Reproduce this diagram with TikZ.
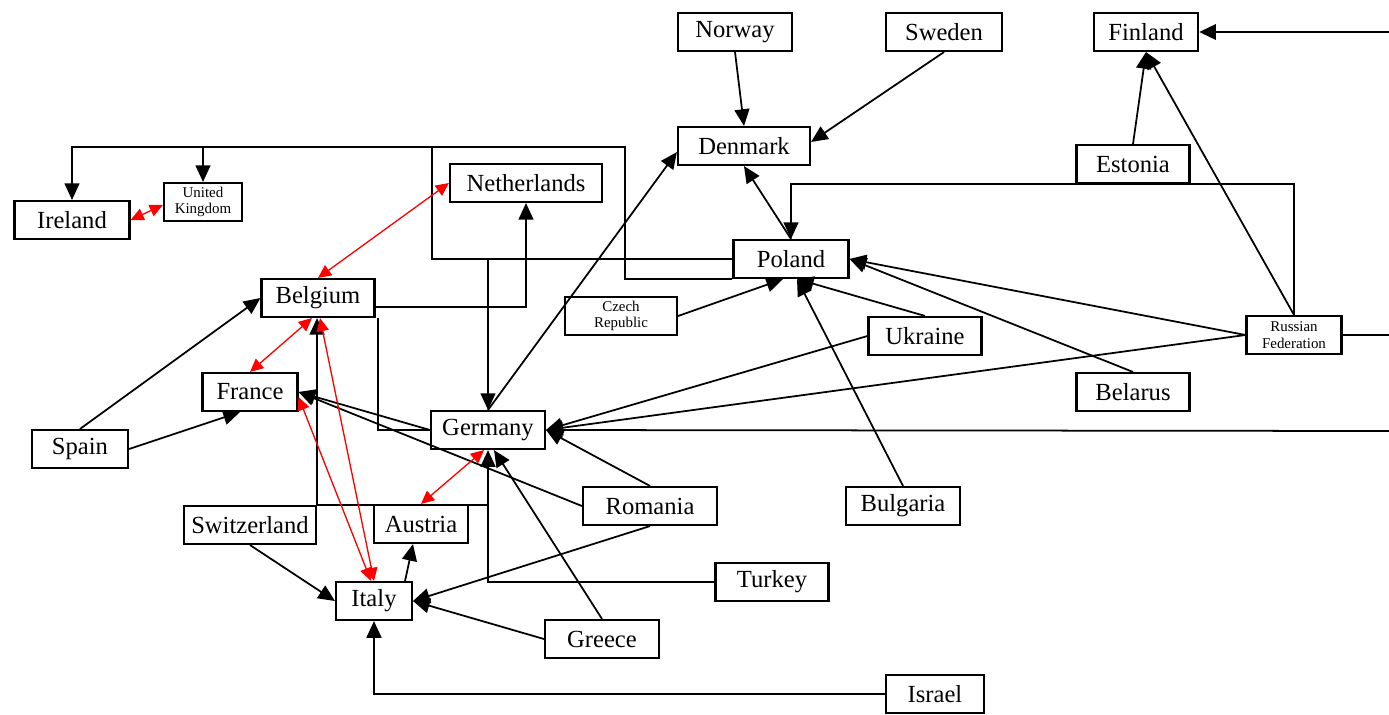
\documentclass[tikz,border=0pt]{standalone}
\usepackage{fontspec}
\setmainfont{Liberation Serif}
\usepackage{tikz}
\usetikzlibrary{arrows.meta,calc,positioning}
\tikzstyle{country} = [draw, line width=1.2pt, rectangle, inner sep=0pt,
    minimum height=0.76cm, font=\fontsize{14}{16}\selectfont]
\tikzstyle{smallcountry} = [country, align=center, font=\fontsize{8.5}{9.5}\selectfont]
\tikzstyle{link} = [line width=1pt, -{Triangle[length=9.5pt,width=8.5pt]}]
\tikzstyle{plain} = [line width=1pt]
\tikzstyle{mutual} = [red, line width=0.75pt,
    {Triangle[length=7.5pt,width=7pt]}-{Triangle[length=7.5pt,width=7pt]}]

\begin{document}
\begin{tikzpicture}[x=0.02cm, y=-0.02cm]
\useasboundingbox (0,0) rectangle (1389,714);
% north
\node[country, minimum width=2.28cm] (norway) at (735,32) {Norway};
\node[country, minimum width=2.32cm] (sweden) at (944,32) {Sweden};
\node[country, minimum width=2.08cm] (finland) at (1146,32) {Finland};
\node[country, minimum width=2.64cm] (denmark) at (744,146) {Denmark};
\node[country, minimum width=2.26cm] (estonia) at (1133,164) {Estonia};
% west
\node[country, minimum width=2.3cm] (ireland) at (72,220) {Ireland};
\node[smallcountry, minimum width=1.56cm] (uk) at (203,202) {United\\Kingdom};
\node[country, minimum width=3.04cm] (netherlands) at (526,183) {Netherlands};
\node[country, minimum width=2.26cm] (belgium) at (318,298) {Belgium};
\node[country, minimum width=1.9cm] (france) at (250,392) {France};
\node[country, minimum width=1.92cm] (spain) at (80,449) {Spain};
% centre and east
\node[country, minimum width=2.3cm] (poland) at (791,259) {Poland};
\node[smallcountry, minimum width=2.24cm] (czech) at (621,316) {Czech\\Republic};
\node[country, minimum width=2.26cm] (ukraine) at (925,336) {Ukraine};
\node[smallcountry, minimum width=1.9cm] (russia) at (1294,335) {Russian\\Federation};
\node[country, minimum width=2.26cm] (belarus) at (1133,392) {Belarus};
\node[country, minimum width=2.28cm] (germany) at (488,430) {Germany};
\node[country, minimum width=2.68cm] (romania) at (650,506) {Romania};
\node[country, minimum width=2.28cm] (bulgaria) at (903,506) {Bulgaria};
% south
\node[country, minimum width=2.64cm] (switzerland) at (250,525) {Switzerland};
\node[country, minimum width=1.88cm] (austria) at (421,524) {Austria};
\node[country, minimum width=1.52cm] (italy) at (374,601) {Italy};
\node[country, minimum width=2.26cm] (turkey) at (772,582) {Turkey};
\node[country, minimum width=2.28cm] (greece) at (602,639) {Greece};
\node[country, minimum width=1.96cm] (israel) at (935,694) {Israel};

\coordinate (finIn) at (1389,32);
\coordinate (gerIn) at (1389,431);
\coordinate (rusOut) at (1389,335);
\coordinate (nwbend) at (432,147);
\coordinate (nebend) at (625,147);

% black links
\draw[link] (norway.south) -- (denmark.north);
\draw[link] (sweden.south) -- ($(denmark.east)+(0,-4)$);
\draw[link, line width=1.7pt] (finIn) -- (finland.east);
\draw[link] (estonia.north) -- (finland.south);
\draw[link] (russia.north) -- (finland.south);
\draw[link] (russia.north) |- (estonia.south) -| (poland.north);
\draw[link] (russia.west) -- (poland.east);
\draw[link] (belarus.north) -- (poland.east);
\draw[link] (ukraine.north) -- ($(poland.south)+(6,0)$);
\draw[link] (bulgaria.north) -- ($(poland.south)+(6,0)$);
\draw[link] (czech.east) -- ($(poland.south)+(-8,0)$);
\draw[link] (poland.north) -- (denmark.south);
\draw[link] (germany.north) -- ($(denmark.west)+(0,6)$);
\draw[plain] (russia.east) -- (rusOut);
\draw[link] (poland.west) -| (nwbend) -| (ireland.north);
\draw[link] (uk.north |- nwbend) -- (uk.north);
\draw[plain] (poland.south west) -| (nebend) -- (nwbend);
\draw[link] (poland.west -| germany.north) -- (germany.north);
\draw[link] ($(belgium.east)+(0,9)$) -| (netherlands.south);
\draw[plain] (germany.west) -| ($(belgium.south east)+(2.5,0)$);
\draw[link] (switzerland.north east) -- (switzerland.north east |- belgium.south);
\draw[plain] (switzerland.north east) -- (switzerland.north east -| germany.south);
\draw[link] (turkey.west) -| (germany.south);
\draw[link] (spain.north) -- (belgium.west);
\draw[link] (spain.east) -- ($(france.south)+(-10,0)$);
\draw[link] (germany.west) -- (france.east);
\draw[link] (romania.west) -- (france.east);
\draw[link] (romania.north) -- (germany.east);
\draw[link] (ukraine.west) -- (germany.east);
\draw[link] (russia.west) -- (germany.east);
\draw[link] (gerIn) -- (germany.east);
\draw[link] (greece.north) -- ($(germany.south)+(6,0)$);
\draw[link] (romania.south) -- (italy.east);
\draw[link] (greece.west) -- (italy.east);
\draw[link] ($(italy.north east)+(-8,0)$) -- ($(austria.south)+(-8,0)$);
\draw[link] (switzerland.south) -- (italy.west);
\draw[link] (israel.west) -| (italy.south);

% red links, both ways
\draw[mutual] (ireland.east) -- ($(uk.west)+(0,3)$);
\draw[mutual] (belgium.north) -- (netherlands.west);
\draw[mutual] ($(belgium.south)+(-6,0)$) -- (france.north);
\draw[mutual] ($(belgium.south)+(2,0)$) -- (italy.north);
\draw[mutual] ($(france.east)+(0,5)$) -- ($(italy.north)+(-3,0)$);
\draw[mutual] ($(germany.south)+(-4,0)$) -- (austria.north);
\end{tikzpicture}
\end{document}
